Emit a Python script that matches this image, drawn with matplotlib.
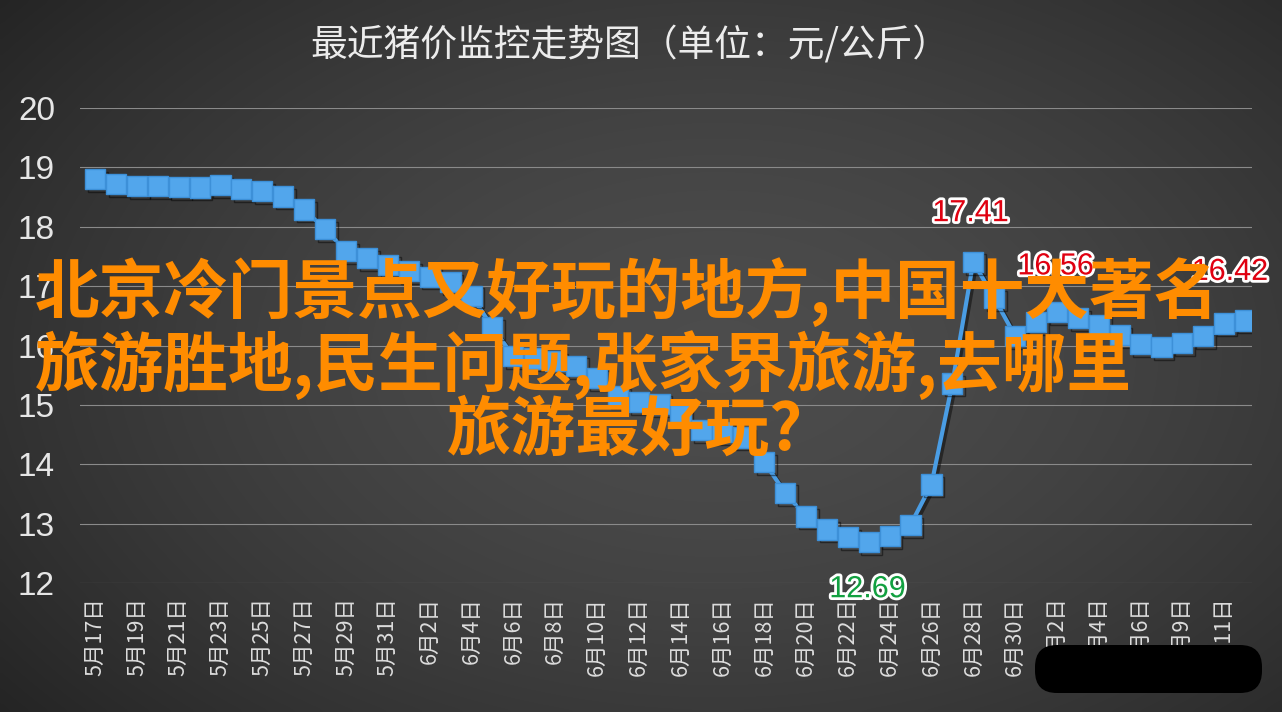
import numpy as np
import matplotlib
matplotlib.use("Agg")
import matplotlib.pyplot as plt
import matplotlib.patheffects as pe
from matplotlib.patches import FancyBboxPatch
from matplotlib.transforms import IdentityTransform

# pig price, yuan / kg, one point per sample day
dates = ["5月17日", "5月18日", "5月19日", "5月20日", "5月21日", "5月22日", "5月23日",
         "5月24日", "5月25日", "5月26日", "5月27日", "5月28日", "5月29日", "5月30日",
         "5月31日", "6月1日", "6月2日", "6月3日", "6月4日", "6月5日", "6月6日",
         "6月7日", "6月8日", "6月9日", "6月10日", "6月11日", "6月12日", "6月13日",
         "6月14日", "6月15日", "6月16日", "6月17日", "6月18日", "6月19日", "6月20日",
         "6月21日", "6月22日", "6月23日", "6月24日", "6月25日", "6月26日", "6月27日",
         "6月28日", "6月29日", "6月30日", "7月1日", "7月2日", "7月3日", "7月4日",
         "7月5日", "7月6日", "7月8日", "7月9日", "7月10日", "7月11日", "7月12日"]
prices = [18.80, 18.72, 18.69, 18.69, 18.67, 18.66, 18.70, 18.64, 18.60, 18.51,
          18.29, 17.96, 17.59, 17.47, 17.36, 17.25, 17.16, 17.07, 16.84, 16.31,
          15.82, 15.78, 15.74, 15.66, 15.45, 15.15, 15.05, 15.02, 14.82, 14.58,
          14.54, 14.45, 14.04, 13.52, 13.12, 12.90, 12.77, 12.69, 12.79, 12.98,
          13.66, 15.36, 17.41, 16.80, 16.16, 16.40, 16.56, 16.46, 16.35, 16.18,
          16.02, 15.98, 16.04, 16.16, 16.37, 16.42]
yticks = [12, 13, 14, 15, 16, 17, 18, 19, 20]

# labelled points: index, colour, offset in points
highlights = [(42, "#e00010", (-2, 35)), (46, "#e00010", (-1, 33)),
              (55, "#e00010", (-11, 35)), (37, "#12a040", (-1, -34))]

title = "最近猪价监控走势图（单位：元/公斤）"
overlay = ["北京冷门景点又好玩的地方,中国十大著名",
           "旅游胜地,民生问题,张家界旅游,去哪里",
           "旅游最好玩?"]

CJK = ["Noto Sans CJK SC", "DejaVu Sans"]
plt.rcParams["font.family"] = CJK

W, H = 1282, 712
fig = plt.figure(figsize=(W / 100, H / 100), dpi=100)

# dark vignette background
bg = fig.add_axes([0, 0, 1, 1], zorder=-10)
gx, gy = np.meshgrid(np.linspace(0, 1, 320), np.linspace(0, 1, 180))
r = np.sqrt(((gx - 0.56) / 0.75) ** 2 + ((gy - 0.5) / 0.85) ** 2)
shade = np.clip(0.30 - 0.17 * r ** 1.6, 0.11, 0.31)
bg.imshow(np.dstack([shade] * 3), aspect="auto", extent=[0, 1, 0, 1], interpolation="bicubic")
bg.axis("off")

ax = fig.add_axes([80 / W, 1 - 583 / H, (1252 - 80) / W, (583 - 108) / H])
ax.set_facecolor("none")
for s in ax.spines.values():
    s.set_visible(False)

x = np.arange(len(prices))
ax.plot(x, prices, color="#4a9de4", lw=3, marker="s", ms=14.5, mfc="#52a6ec", mec="#3d90d8",
        mew=1, zorder=3,
        path_effects=[pe.SimpleLineShadow(offset=(2, -2), alpha=0.45), pe.Normal()])

ax.set_ylim(12, 20)
ax.set_xlim(-0.72, len(prices) - 0.67)
ax.set_yticks(yticks)
ax.set_yticklabels([str(v) for v in yticks], family="Liberation Sans", fontsize=24, color="#e6e6e6")
ax.grid(axis="y", color="#8a8a8a", lw=0.8)
ax.set_axisbelow(True)
ax.set_xticks(x[::2])
ax.set_xticklabels(dates[::2], rotation=90, fontsize=15.5, color="#dcdcdc")
ax.tick_params(axis="both", length=0)
ax.tick_params(axis="y", pad=18)
ax.tick_params(axis="x", pad=10)

for i, col, off in highlights:
    ax.annotate(f"{prices[i]:.2f}", (x[i], prices[i]), xytext=off, textcoords="offset points",
                ha="center", va="center", fontsize=22, color=col, family="Liberation Sans",
                zorder=5, path_effects=[pe.withStroke(linewidth=4, foreground="white")])

fig.text(630 / W, 1 - 46 / H, title, ha="center", va="center", fontsize=26.5, color="#ececec")

# orange caption laid over the chart
fig.text(35 / W, 1 - 292 / H, overlay[0], ha="left", va="center", fontsize=46.5,
         color="#ff8c00", weight="bold", zorder=10)
fig.text(35 / W, 1 - 365 / H, overlay[1], ha="left", va="center", fontsize=46.5,
         color="#ff8c00", weight="bold", zorder=10)
fig.text(625 / W, 1 - 431 / H, overlay[2], ha="center", va="center", fontsize=46.5,
         color="#ff8c00", weight="bold", zorder=10)

# black blot over the bottom right corner
fig.patches.append(FancyBboxPatch((1035, H - 693), 227, 48,
                                  boxstyle="round,pad=0,rounding_size=22",
                                  transform=IdentityTransform(), fc="black", ec="none",
                                  zorder=20))

fig.savefig("out.png", dpi=100)
